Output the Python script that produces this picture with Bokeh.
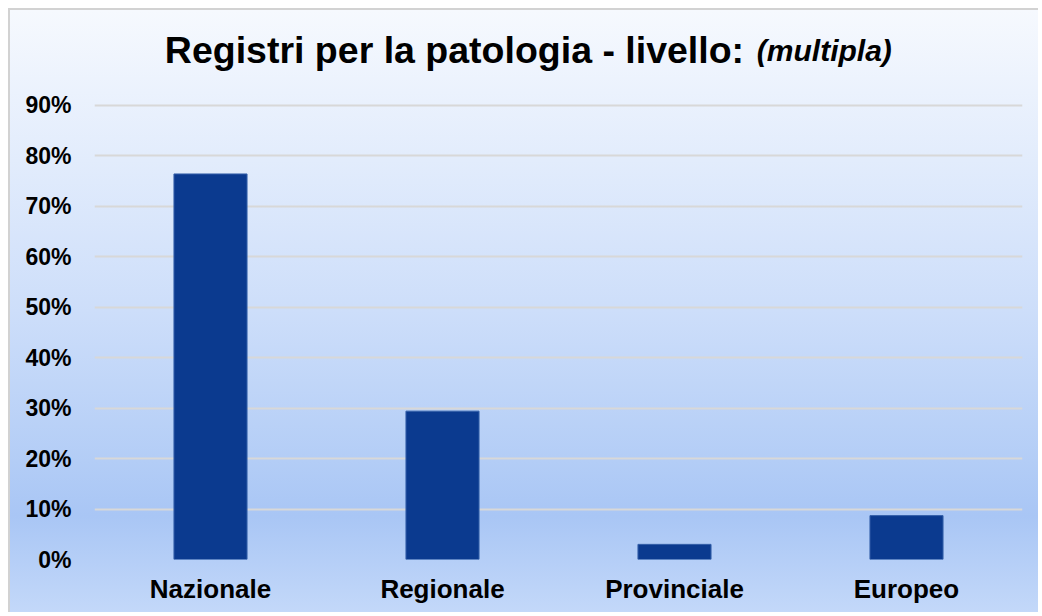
from bokeh.plotting import figure
from bokeh.models import Range1d, Label, NumeralTickFormatter, FixedTicker, ColumnDataSource
from bokeh.embed import file_html
from bokeh.resources import INLINE

categories = ["Nazionale", "Regionale", "Provinciale", "Europeo"]
values = [0.764, 0.294, 0.030, 0.087]
y_ticks = [0.0, 0.1, 0.2, 0.3, 0.4, 0.5, 0.6, 0.7, 0.8, 0.9]
title_main = "Registri per la patologia - livello:"
title_sub = "(multipla)"

src = ColumnDataSource(dict(cat=categories, val=values))

p = figure(x_range=categories, y_range=Range1d(0, 1.08), width=1030, height=604,
           output_backend="svg", toolbar_location=None,
           min_border_left=84, min_border_right=18, min_border_top=4, min_border_bottom=55)
p.styles = {"background": "linear-gradient(to bottom, #f6f9fe 0%, #e2ecfc 25%, #cddefa 50%, #b3cdf6 75%, #a9c6f5 84%, #c3d8f9 100%)",
            "border-left": "2px solid #d2d2d2", "border-top": "2px solid #d2d2d2",
            "margin-left": "8px", "margin-top": "8px"}
p.background_fill_alpha = 0
p.border_fill_alpha = 0
p.outline_line_color = None

p.vbar(x="cat", top="val", width=0.315, source=src, fill_color="#0b3a8f", line_color="#3560aa", line_width=1)

p.xgrid.grid_line_color = None
p.ygrid.grid_line_color = "#d8d8d8"
p.ygrid.grid_line_width = 2
p.yaxis.ticker = FixedTicker(ticks=y_ticks)
p.yaxis.formatter = NumeralTickFormatter(format="0%")
for ax in (p.xaxis, p.yaxis):
    ax.axis_line_color = None
    ax.major_tick_line_color = None
    ax.minor_tick_line_color = None
    ax.major_label_text_font = "Liberation Sans"
    ax.major_label_text_font_style = "bold"
    ax.major_label_text_color = "#000000"
p.yaxis.major_label_text_font_size = "23px"
p.xaxis.major_label_text_font_size = "26px"
p.yaxis.major_label_standoff = 17
p.xaxis.major_label_standoff = 8

p.add_layout(Label(x=2.80, y=1.009, text=title_main, text_align="right", text_baseline="alphabetic",
                   text_font="Liberation Sans", text_font_style="bold", text_font_size="37.5px", text_color="#000000"))
p.add_layout(Label(x=2.855, y=1.009, text=title_sub, text_align="left", text_baseline="alphabetic",
                   text_font="Liberation Sans", text_font_style="bold italic", text_font_size="30px", text_color="#000000"))

open("out.html", "w").write(file_html(p, INLINE))
